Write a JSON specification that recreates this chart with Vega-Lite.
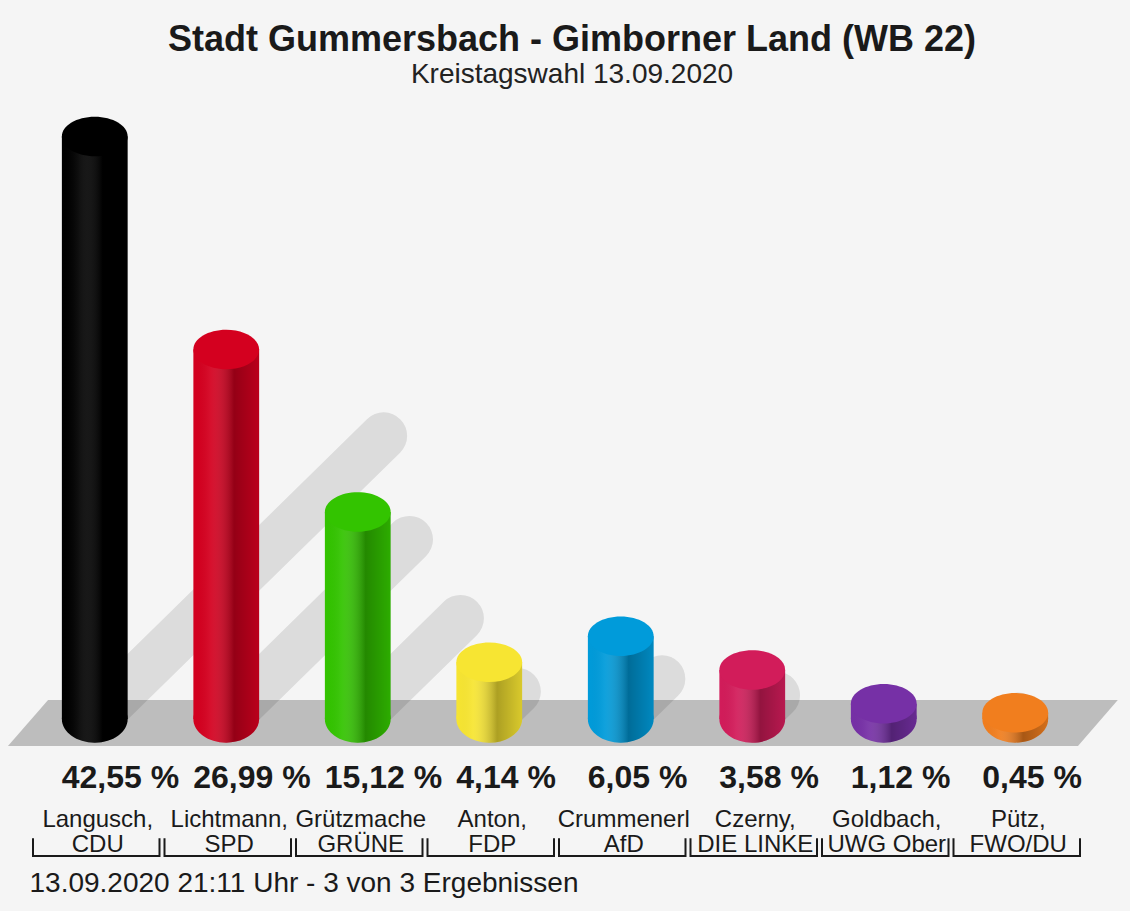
{
  "$schema": "https://vega.github.io/schema/vega-lite/v6.json",
  "width": 1052,
  "height": 760,
  "autosize": {"type": "none"},
  "padding": {"left": 29, "top": 100, "right": 49, "bottom": 51},
  "background": "#f5f5f5",
  "config": {
    "view": {"stroke": null},
    "font": "Liberation Sans",
    "locale": {"number": {"decimal": ",", "thousands": ".", "grouping": [3], "currency": ["", " %"]}}
  },
  "title": {
    "text": "Stadt Gummersbach - Gimborner Land (WB 22)",
    "subtitle": "Kreistagswahl 13.09.2020",
    "anchor": "middle",
    "dx": 17,
    "offset": 10,
    "font": "Liberation Sans",
    "fontSize": 36,
    "fontWeight": "bold",
    "color": "#1a1a1a",
    "subtitleFont": "Liberation Sans",
    "subtitleFontSize": 28,
    "subtitleColor": "#222222",
    "subtitlePadding": 2
  },
  "datasets": {
    "parties": [
      {"party": "CDU", "candidate": "Langusch,", "value": 42.55},
      {"party": "SPD", "candidate": "Lichtmann,", "value": 26.99},
      {"party": "GRÜNE", "candidate": "Grützmache", "value": 15.12},
      {"party": "FDP", "candidate": "Anton,", "value": 4.14},
      {"party": "AfD", "candidate": "Crummenerl", "value": 6.05},
      {"party": "DIE LINKE", "candidate": "Czerny,", "value": 3.58},
      {"party": "UWG Ober", "candidate": "Goldbach,", "value": 1.12},
      {"party": "FWO/DU", "candidate": "Pütz,", "value": 0.45}
    ],
    "floor": [
      {"fx": -0.16, "lo": -1.97, "hi": -1.97},
      {"fx": 0.145, "lo": -1.97, "hi": 1.39},
      {"fx": 7.977, "lo": -1.97, "hi": 1.39},
      {"fx": 8.28, "lo": 1.39, "hi": 1.39}
    ]
  },
  "data": {"name": "parties"},
  "encoding": {
    "x": {
      "field": "party", "type": "nominal",
      "scale": {"domain": ["CDU", "SPD", "GRÜNE", "FDP", "AfD", "DIE LINKE", "UWG Ober", "FWO/DU"], "paddingInner": 0, "paddingOuter": 0},
      "axis": null
    }
  },
  "resolve": {"scale": {"x": "independent"}},
  "layer": [
    {
      "data": {"name": "floor"},
      "mark": {"type": "area", "color": "#bdbdbd"},
      "encoding": {
        "x": {"field": "fx", "type": "quantitative", "scale": {"domain": [0, 8], "nice": false, "zero": false}, "axis": null},
        "y": {"field": "hi", "type": "quantitative", "scale": {"domain": [-10.3, 45.215], "nice": false, "zero": false}, "axis": null},
        "y2": {"field": "lo"}
      }
    },
    {
      "mark": {"type": "point", "shape": "M 0 0 L 1 -0.98", "filled": false, "stroke": "#000000", "strokeOpacity": 0.1, "opacity": 1, "strokeWidth": 47, "strokeCap": "round"},
      "encoding": {
        "y": {"datum": 0, "type": "quantitative", "scale": {"domain": [-10.3, 45.215], "nice": false, "zero": false}, "axis": null},
        "size": {"field": "value", "type": "quantitative", "scale": {"type": "pow", "exponent": 2, "domain": [0, 50], "range": [0, 461000]}, "legend": null}
      }
    },
    {
      "mark": {"type": "point", "shape": "M -1 0 A 1 0.72 0 1 0 1 0 A 1 0.72 0 1 0 -1 0 Z", "size": 4330, "filled": true, "opacity": 1, "strokeWidth": 0},
      "encoding": {
        "y": {"datum": 0, "type": "quantitative", "scale": {"domain": [-10.3, 45.215], "nice": false, "zero": false}, "axis": null},
        "color": {
          "field": "party", "type": "nominal",
          "scale": {"domain": ["CDU", "SPD", "GRÜNE", "FDP", "AfD", "DIE LINKE", "UWG Ober", "FWO/DU"],
                    "range": ["#000000", "#d4001f", "#33c400", "#f7e532", "#009bda", "#d21c5a", "#7630a6", "#f17e1e"]},
          "legend": null
        }
      }
    },
    {
      "mark": {"type": "point", "shape": "M -1 0 A 1 0.72 0 1 0 1 0 A 1 0.72 0 1 0 -1 0 Z", "size": 4330, "filled": true, "opacity": 1, "strokeWidth": 0,
               "fill": {"gradient": "linear", "x1": 0, "y1": 0, "x2": 1, "y2": 0,
                        "stops": [{"offset": 0, "color": "rgba(0,0,0,0)"},
                                  {"offset": 0.25, "color": "rgba(255,255,255,0.06)"},
                                  {"offset": 0.62, "color": "rgba(0,0,0,0.3)"},
                                  {"offset": 1, "color": "rgba(0,0,0,0.12)"}]}},
      "encoding": {
        "y": {"datum": 0, "type": "quantitative", "scale": {"domain": [-10.3, 45.215], "nice": false, "zero": false}, "axis": null}
      }
    },
    {
      "mark": {"type": "bar", "width": {"band": 0.5}},
      "encoding": {
        "x": {
          "field": "party", "type": "nominal",
          "scale": {"domain": ["CDU", "SPD", "GRÜNE", "FDP", "AfD", "DIE LINKE", "UWG Ober", "FWO/DU"], "paddingInner": 0, "paddingOuter": 0},
          "axis": {"title": "13.09.2020 21:11 Uhr - 3 von 3 Ergebnissen", "labels": false, "ticks": false, "domain": false, "grid": false,
                   "titleAnchor": "start", "titleFont": "Liberation Sans", "titleFontSize": 28, "titleFontWeight": "normal",
                   "titleColor": "#1a1a1a", "titlePadding": 9}
        },
        "y": {"field": "value", "type": "quantitative", "stack": null, "scale": {"domain": [-10.3, 45.215], "nice": false, "zero": false}, "axis": null},
        "color": {"field": "party", "type": "nominal", "legend": null}
      }
    },
    {
      "mark": {"type": "bar", "width": {"band": 0.5},
               "fill": {"gradient": "linear", "x1": 0, "y1": 0, "x2": 1, "y2": 0,
                        "stops": [{"offset": 0, "color": "rgba(0,0,0,0)"},
                                  {"offset": 0.25, "color": "rgba(255,255,255,0.06)"},
                                  {"offset": 0.62, "color": "rgba(0,0,0,0.3)"},
                                  {"offset": 1, "color": "rgba(0,0,0,0.12)"}]}},
      "encoding": {
        "y": {"field": "value", "type": "quantitative", "stack": null, "scale": {"domain": [-10.3, 45.215], "nice": false, "zero": false}, "axis": null}
      }
    },
    {
      "mark": {"type": "point", "shape": "M -1 0 A 1 0.6 0 1 0 1 0 A 1 0.6 0 1 0 -1 0 Z", "size": 4330, "filled": true, "opacity": 1, "strokeWidth": 0},
      "encoding": {
        "y": {"field": "value", "type": "quantitative", "scale": {"domain": [-10.3, 45.215], "nice": false, "zero": false}, "axis": null},
        "color": {"field": "party", "type": "nominal", "legend": null}
      }
    },
    {
      "mark": {"type": "text", "font": "Liberation Sans", "fontSize": 32, "fontWeight": "bold", "baseline": "middle", "align": "left", "dx": -33, "color": "#1a1a1a"},
      "encoding": {
        "y": {"datum": -4.3, "type": "quantitative", "scale": {"domain": [-10.3, 45.215], "nice": false, "zero": false}, "axis": null},
        "text": {"field": "value", "type": "quantitative", "format": "$.2f"}
      }
    },
    {
      "mark": {"type": "text", "font": "Liberation Sans", "fontSize": 24, "baseline": "middle", "align": "center", "dx": 3, "color": "#1a1a1a"},
      "encoding": {
        "y": {"datum": -7.38, "type": "quantitative", "scale": {"domain": [-10.3, 45.215], "nice": false, "zero": false}, "axis": null},
        "text": {"field": "candidate", "type": "nominal"}
      }
    },
    {
      "mark": {"type": "text", "font": "Liberation Sans", "fontSize": 24, "baseline": "middle", "align": "center", "dx": 3, "color": "#1a1a1a"},
      "encoding": {
        "y": {"datum": -9.2, "type": "quantitative", "scale": {"domain": [-10.3, 45.215], "nice": false, "zero": false}, "axis": null},
        "text": {"field": "party", "type": "nominal"}
      }
    },
    {
      "mark": {"type": "point", "shape": "M -1 -0.28 L -1 0 L 1 0 L 1 -0.28", "size": 16002, "filled": false, "stroke": "#1a1a1a", "strokeWidth": 2, "opacity": 1, "xOffset": 1.5},
      "encoding": {
        "y": {"datum": -10.0, "type": "quantitative", "scale": {"domain": [-10.3, 45.215], "nice": false, "zero": false}, "axis": null}
      }
    }
  ]
}
